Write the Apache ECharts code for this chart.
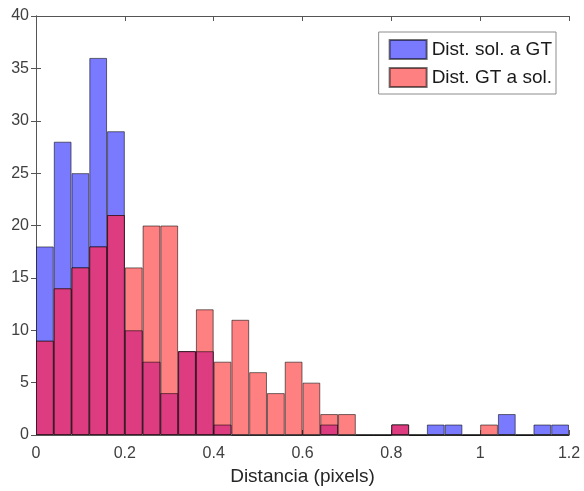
<!DOCTYPE html>
<html><head><meta charset="utf-8">
<script src="https://cdn.jsdelivr.net/npm/echarts@6/dist/echarts.min.js"></script>
<style>html,body{margin:0;padding:0;background:#fff}#c{width:584px;height:491px}</style>
</head><body><div id="c"></div>
<script>
// bin start (pixels), bin width 0.04
const binStarts = ['0.00','0.04','0.08','0.12','0.16','0.20','0.24','0.28','0.32','0.36',
                   '0.40','0.44','0.48','0.52','0.56','0.60','0.64','0.68','0.72','0.76',
                   '0.80','0.84','0.88','0.92','0.96','1.00','1.04','1.08','1.12','1.16'];
const solToGT = [18,28,25,36,29,10,7,4,8,8, 1,0,0,0,0,0,1,0,0,0, 1,0,1,1,0,0,2,0,1,1];
const gtToSol = [9,14,16,18,21,16,20,20,8,12, 7,11,6,4,7,5,2,2,0,0, 1,0,0,0,0,1,0,0,0,0];
// overlapping part (both histograms), seen as magenta in the picture
const overlap = [9,14,16,18,21,10,7,4,8,8, 1,0,0,0,0,0,1,0,0,0, 1,0,0,0,0,0,0,0,0,0];
const seriesNames = ['Dist. sol. a GT','Dist. GT a sol.'];

const FONT = "'Liberation Sans', Arial, Helvetica, sans-serif";
const axisCol = '#555';
const edge = 'rgba(0,0,0,0.55)';
const chart = echarts.init(document.getElementById('c'), null, {renderer:'canvas'});
const g = {left:36, top:16, width:533, height:421};
chart.setOption({
  animation:false,
  textStyle:{fontFamily:FONT},
  grid:g,
  legend:{
    data:seriesNames, orient:'vertical', right:28, top:32, icon:'rect',
    itemWidth:37, itemHeight:19, itemGap:7, padding:[7,4,6,10],
    borderColor:'#8c8c8c', borderWidth:1, backgroundColor:'#fff',
    textStyle:{fontSize:19, color:'#1a1a1a', fontFamily:FONT},
    selectedMode:false
  },
  xAxis:[
    {type:'category', data:binStarts, show:false, boundaryGap:true},
    {type:'value', min:0, max:1.2, interval:0.2, position:'bottom',
     axisLine:{show:true, onZero:false, lineStyle:{color:axisCol}},
     axisTick:{show:true, inside:true, length:5, lineStyle:{color:axisCol}},
     axisLabel:{fontSize:16, color:'#404040', margin:11, formatter:v=>String(+v.toFixed(1))},
     splitLine:{show:false},
     name:'Distancia (pixels)', nameLocation:'middle', nameGap:32,
     nameTextStyle:{fontSize:19, color:'#262626'}},
    {type:'value', min:0, max:1.2, interval:0.2, position:'top',
     axisLine:{show:true, onZero:false, lineStyle:{color:axisCol}},
     axisTick:{show:true, inside:true, length:5, lineStyle:{color:axisCol}},
     axisLabel:{show:false}, splitLine:{show:false}}
  ],
  yAxis:[
    {type:'value', min:0, max:40, interval:5, position:'left',
     axisLine:{show:true, lineStyle:{color:axisCol}},
     axisTick:{show:true, inside:true, length:5, lineStyle:{color:axisCol}},
     axisLabel:{fontSize:16, color:'#404040', margin:7},
     splitLine:{show:false}},
    {type:'value', min:0, max:40, interval:5, position:'right',
     axisLine:{show:true, lineStyle:{color:axisCol}},
     axisTick:{show:true, inside:true, length:5, lineStyle:{color:axisCol}},
     axisLabel:{show:false}, splitLine:{show:false}}
  ],
  series:[
    {name:seriesNames[0], type:'bar', xAxisIndex:0, yAxisIndex:0, data:solToGT,
     barGap:'-100%', barCategoryGap:0,
     itemStyle:{color:'#7a7aff', borderColor:edge, borderWidth:1}},
    {name:seriesNames[1], type:'bar', xAxisIndex:0, yAxisIndex:0, data:gtToSol,
     barGap:'-100%', barCategoryGap:0,
     itemStyle:{color:'#ff8080', borderColor:edge, borderWidth:1}},
    {name:'overlap', type:'bar', xAxisIndex:0, yAxisIndex:0,
     data:overlap.map(v => v === 0 ? '-' : v),
     barGap:'-100%', barCategoryGap:0,
     itemStyle:{color:'#dd3c80', borderColor:edge, borderWidth:1}}
  ]
});
</script></body></html>
